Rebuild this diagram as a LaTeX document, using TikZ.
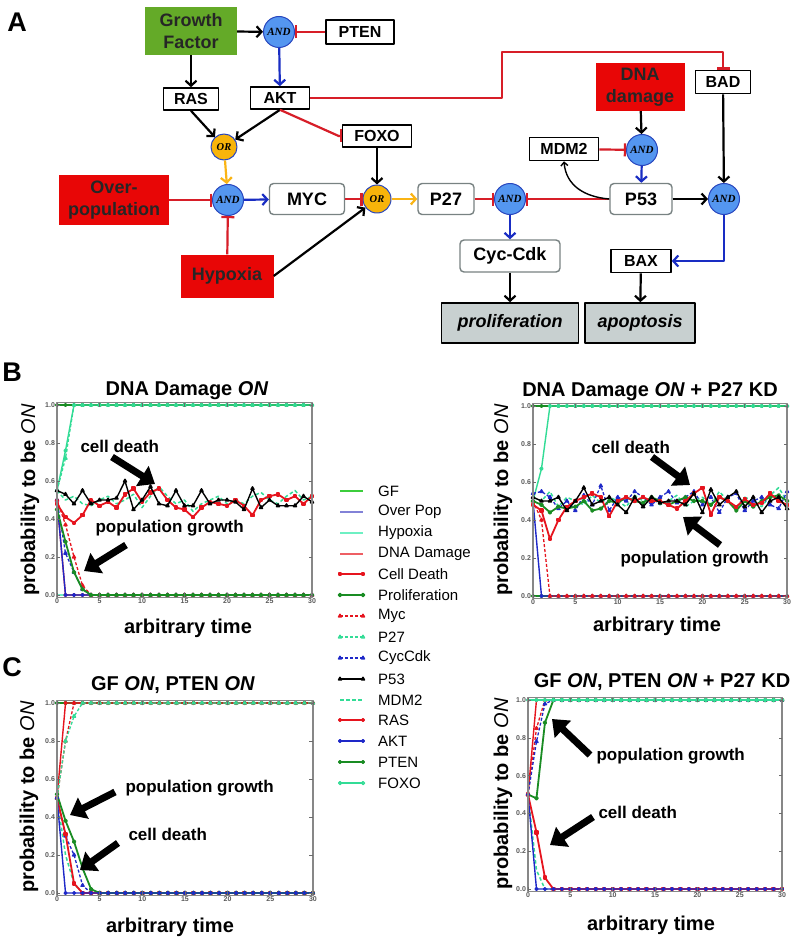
\documentclass[tikz,border=0pt]{standalone}
\usepackage{fontspec}
\setmainfont{Liberation Sans}
\newfontfamily\gatefont{Liberation Serif}
\usetikzlibrary{arrows.meta,plotmarks}
\newcommand\fs[1]{\fontsize{#1}{\the\dimexpr #1pt*6/5\relax}\selectfont}
\definecolor{gfgreen}{RGB}{100,170,40}
\definecolor{boxred}{RGB}{232,6,6}
\definecolor{gateblue}{RGB}{84,150,240}
\definecolor{gateedge}{RGB}{40,70,190}
\definecolor{gateorange}{RGB}{248,180,10}
\definecolor{boxgray}{RGB}{120,130,130}
\definecolor{outgray}{RGB}{200,208,208}
\definecolor{arrblue}{RGB}{25,45,195}
\definecolor{arrorange}{RGB}{250,180,20}
\definecolor{inhred}{RGB}{215,30,40}
\definecolor{sergf}{RGB}{60,205,60}
\definecolor{serop}{RGB}{130,130,215}
\definecolor{serhyp}{RGB}{110,240,195}
\definecolor{serdna}{RGB}{238,95,100}
\definecolor{redc}{RGB}{230,20,30}
\definecolor{dgreen}{RGB}{25,140,35}
\definecolor{aquac}{RGB}{50,220,150}
\definecolor{bluec}{RGB}{30,40,200}
\definecolor{framec}{RGB}{135,135,135}
\newcounter{ci}
\newcommand\series[3]{%
  \gdef\clist{}\setcounter{ci}{0}%
  \foreach \yv in {#2}{\xdef\clist{\clist(\arabic{ci},\yv)}\stepcounter{ci}}%
  \foreach \k in {0,...,30}{\ifnum\k<\value{ci}\else\xdef\clist{\clist(\k,#3)}\fi}%
  \edef\tmp{\noexpand\draw[#1] plot coordinates {\clist};}\tmp}
\newcommand\plotaxes[1]{%
  \draw[axframe] (0,-0.012) rectangle (30,1.012);
  \foreach \v/\l [count=\i] in {0/0.0,0.2/0.2,0.4/0.4,0.6/0.6,0.8/0.8,1/1.0}{
    \draw[axtick] (0,\v) -- ++(0.4,0);
    \draw[axtick] (30,\v) -- ++(-0.4,0);
    \node[ticklab, anchor=east] (#1y\i) at (-0.1,\v) {\l};
  }
  \foreach \v [count=\i] in {0,5,...,30}{
    \draw[axtick] (\v,-0.012) -- ++(0,0.02);
    \draw[axtick] (\v,1.012) -- ++(0,-0.02);
    \node[ticklab, anchor=north] (#1x\i) at (\v,-0.014) {\v};
  }
}
\tikzset{
  box/.style={draw=black, line width=1.6pt, fill=white, font=\bfseries\fs{16}, inner sep=0pt},
  rbox/.style={draw=boxgray, line width=1.4pt, rounded corners=4pt, fill=white, font=\bfseries\fs{18}, inner sep=0pt},
  redbox/.style={fill=boxred, font=\bfseries\fs{18}, align=center, inner sep=0pt, text=black!85},
  andg/.style={circle, fill=gateblue, draw=gateedge, line width=1pt, minimum size=31pt, inner sep=0pt, font=\gatefont\bfseries\itshape\fs{11}},
  org/.style={circle, fill=gateorange, draw=gateedge, line width=1pt, minimum size=26pt, inner sep=0pt, font=\gatefont\bfseries\itshape\fs{10.5}},
  outbox/.style={fill=outgray, draw=black, line width=1.6pt, font=\bfseries\itshape\fs{18}, inner sep=0pt},
  act/.style={line width=2.2pt, -{Straight Barb[length=5pt,width=11pt]}},
  thinact/.style={line width=1.4pt, -{Straight Barb[length=3.5pt,width=7pt]}},
  bluearr/.style={draw=arrblue},
  orangearr/.style={draw=arrorange},
  inh/.style={line width=2.2pt, draw=inhred, -{Bar[width=13pt]}},
  axframe/.style={draw=framec, line width=1.3pt},
  axtick/.style={draw=framec!80!black, line width=0.6pt},
  ticklab/.style={font=\bfseries\fs{7}, text=black!65, inner sep=1pt},
  ptitle/.style={font=\bfseries\fs{20}, anchor=base},
  xlab/.style={font=\bfseries\fs{20}, anchor=base},
  ylab/.style={font=\bfseries\fs{20}, rotate=90},
  annot/.style={font=\bfseries\fs{17}, anchor=base west},
  bigarrow/.style={line width=7pt, -{Triangle[length=15pt,width=23pt]}},
  panel/.style={font=\bfseries\fs{27}},
  legtext/.style={font=\fs{15}, anchor=west, inner sep=0pt},
  gfS/.style={draw=sergf, line width=1.3pt},
  opS/.style={draw=serop, line width=1.3pt},
  hypS/.style={draw=serhyp, line width=1.3pt},
  dnaS/.style={draw=serdna, line width=1.5pt},
  cdS/.style={color=redc, line width=1.8pt, mark=square*, mark size=1.3pt},
  prS/.style={color=dgreen, line width=1.8pt, mark=*, mark size=1.4pt},
  mycS/.style={color=redc, line width=1.3pt, dash pattern=on 3pt off 2pt, mark=triangle*, mark size=1.8pt, mark options={solid}},
  p27S/.style={color=aquac, line width=1.3pt, dash pattern=on 3pt off 2pt, mark=triangle, mark size=1.8pt, mark options={solid}},
  cycS/.style={color=bluec, line width=1.3pt, dash pattern=on 3pt off 2pt, mark=triangle*, mark size=1.8pt, mark options={solid}},
  p53S/.style={color=black, line width=1.4pt, mark=triangle*, mark size=1.8pt},
  mdmS/.style={color=aquac, line width=1.5pt, dash pattern=on 3.5pt off 2.5pt},
  rasS/.style={color=redc, line width=1.4pt, mark=*, mark size=1.3pt},
  aktS/.style={color=bluec, line width=1.4pt, mark=*, mark size=1.3pt},
  ptS/.style={color=dgreen, line width=1.4pt, mark=*, mark size=1.4pt},
  foS/.style={color=aquac, line width=1.4pt, mark=o, mark size=1.5pt},
}
\begin{document}
\begin{tikzpicture}[x=1pt,y=-1pt,line join=round]
\useasboundingbox (0,0) rectangle (800,944);
\fill[white] (0,0) rectangle (800,944);

% ================= Panel A =================
\node[panel] (lA) at (17,22) {A};
\node[redbox, fill=gfgreen, minimum width=92pt, minimum height=48pt] (gf) at (191,31) {Growth\\Factor};
\node[andg] (andT) at (279,32) {AND};
\node[box, minimum width=68pt, minimum height=24pt] (pten) at (360,32) {PTEN};
\node[box, minimum width=55pt, minimum height=22pt] (ras) at (191,99) {RAS};
\node[box, minimum width=59pt, minimum height=22pt] (akt) at (280,98) {AKT};
\node[org] (orU) at (224,147) {OR};
\node[box, minimum width=69pt, minimum height=22pt] (foxo) at (377,136) {FOXO};
\node[redbox, minimum width=110pt, minimum height=49pt] (op) at (114,200) {Over-\\population};
\node[andg] (andM) at (228,200) {AND};
\node[rbox, minimum width=75pt, minimum height=31pt] (myc) at (307,199) {MYC};
\node[org, minimum size=28pt] (orM) at (377,199) {OR};
\node[rbox, minimum width=56pt, minimum height=31pt] (p27) at (446,199) {P27};
\node[andg] (andP) at (510,199) {AND};
\node[rbox, minimum width=100pt, minimum height=32pt] (cyc) at (510,256) {Cyc-Cdk};
\node[rbox, minimum width=62pt, minimum height=31pt] (p53) at (641,199) {P53};
\node[andg] (andR) at (724,199) {AND};
\node[box, minimum width=60pt, minimum height=23pt] (bax) at (641,261) {BAX};
\node[box, minimum width=69pt, minimum height=23pt] (mdm2) at (564,149) {MDM2};
\node[andg] (andD) at (642,150) {AND};
\node[redbox, minimum width=89pt, minimum height=48pt] (dna) at (640,87) {DNA\\damage};
\node[box, minimum width=55pt, minimum height=23pt] (bad) at (723,82) {BAD};
\node[redbox, minimum width=93pt, minimum height=43pt] (hyp) at (227,276) {Hypoxia};
\node[outbox, minimum width=137pt, minimum height=40pt] (prolif) at (510,323) {proliferation};
\node[outbox, minimum width=110pt, minimum height=40pt] (apop) at (640,323) {apoptosis};

\draw[act] (gf) -- (andT);
\draw[inh] (pten) -- (andT);
\draw[act, bluearr] (andT) -- (akt);
\draw[act] (gf) -- (ras);
\draw[act] (ras.south) -- (orU);
\draw[act] (akt.south) -- (orU);
\draw[inh] (akt.south) -- ([xshift=-3pt]foxo.west) -- (foxo.west);
\draw[inh] (akt.east) -| (502,52) -| (bad.north);
\draw[act, orangearr] (orU) -- (andM);
\draw[inh] (op) -- (andM);
\draw[inh] (hyp) -- (andM);
\draw[act, bluearr] (andM) -- (myc);
\draw[inh] (myc) -- (orM);
\draw[act] (foxo) -- (orM);
\draw[act] (hyp.east) -- (orM);
\draw[act, orangearr] (orM) -- (p27);
\draw[inh] (p27) -- (andP);
\draw[inh] (p53) -- (andP);
\draw[act, bluearr] (andP) -- (cyc);
\draw[act] (cyc) -- (prolif);
\draw[act] (dna) -- (andD);
\draw[inh] (mdm2) -- (andD);
\draw[act, bluearr] (andD) -- (p53);
\draw[thinact] (p53.west) .. controls (585,197) and (566,186) .. (mdm2.south);
\draw[act] (p53) -- (andR);
\draw[act] (bad) -- (andR);
\draw[act, bluearr] (andR.south) |- (bax.east);
\draw[act] (bax) -- (apop);

% ================= Panel B left =================
\node[panel] (lB) at (12,372) {B};
\begin{scope}[shift={(57pt,-595pt)}, x=8.5pt, y=190pt]
  \series{dnaS}{1}{1}
  \series{gfS}{0}{0}
  \series{hypS}{0}{0}
  \series{p27S}{0.55,0.72,1}{1}
  \series{ptS}{1}{1}
  \series{foS}{0.55,0.76,1}{1}
  \series{rasS}{0.5,0}{0}
  \series{aktS}{0.5,0}{0}
  \series{cycS}{0.5,0.22,0.12,0.03,0}{0}
  \series{mycS}{0.5,0.37,0.2,0.05,0}{0}
  \series{prS}{0.45,0.28,0.12,0.03,0}{0}
  \series{mdmS}{0.55,0.50,0.52,0.48,0.47,0.50,0.52,0.48,0.50,0.53,0.46,0.52,0.57,0.52,0.48,0.50,0.44,0.48,0.50,0.52,0.48,0.50,0.48,0.52,0.54,0.50,0.48,0.52,0.55,0.50,0.52}{0}
  \series{cdS}{0.48,0.41,0.38,0.42,0.50,0.47,0.49,0.46,0.53,0.56,0.49,0.54,0.56,0.50,0.46,0.45,0.41,0.46,0.49,0.48,0.47,0.50,0.47,0.42,0.50,0.52,0.53,0.50,0.52,0.48,0.52}{0}
  \series{p53S}{0.55,0.53,0.48,0.55,0.48,0.50,0.50,0.51,0.60,0.45,0.50,0.57,0.48,0.47,0.55,0.47,0.47,0.55,0.48,0.50,0.50,0.49,0.45,0.56,0.46,0.50,0.47,0.47,0.47,0.52,0.49}{0}
  \plotaxes{bl}
\end{scope}
\node[ptitle] (tBL) at (187,395) {DNA Damage \textit{ON}};
\node[xlab] (xBL) at (188,633) {arbitrary time};
\node[ylab] (yBL) at (30,500) {probability to be {\mdseries\itshape ON}};
\node[annot] (aBL1) at (77,452) {cell death};
\node[annot] (aBL2) at (92,532) {population growth};
\coordinate (aBL1t) at (112,457); \coordinate (aBL1h) at (155,484);
\coordinate (aBL2t) at (126,545); \coordinate (aBL2h) at (84,571);
\draw[bigarrow] (aBL1t) -- (aBL1h);
\draw[bigarrow] (aBL2t) -- (aBL2h);

% ================= Panel B right =================
\begin{scope}[shift={(533pt,-596pt)}, x=8.47pt, y=190pt]
  \series{dnaS}{1}{1}
  \series{ptS}{0}{0}
  \series{ptS}{1}{1}
  \series{foS}{0.5,0.67,1}{1}
  \series{aktS}{0.5,0}{0}
  \series{mycS}{0.5,0.4,0}{0}
  \series{mdmS}{0.52,0.50,0.55,0.47,0.52,0.50,0.48,0.53,0.49,0.52,0.50,0.47,0.53,0.50,0.52,0.48,0.50,0.53,0.47,0.50,0.52,0.48,0.55,0.50,0.46,0.52,0.50,0.47,0.53,0.57,0.50}{0}
  \series{cycS}{0.54,0.55,0.52,0.46,0.50,0.45,0.53,0.48,0.58,0.45,0.52,0.50,0.55,0.52,0.48,0.52,0.55,0.49,0.52,0.55,0.48,0.52,0.44,0.52,0.54,0.45,0.50,0.52,0.48,0.46,0.55}{0}
  \series{prS}{0.50,0.48,0.44,0.47,0.46,0.47,0.50,0.45,0.46,0.50,0.49,0.52,0.50,0.49,0.52,0.50,0.48,0.50,0.52,0.50,0.50,0.48,0.52,0.50,0.45,0.50,0.47,0.50,0.52,0.53,0.50}{0}
  \series{cdS}{0.48,0.45,0.30,0.40,0.47,0.50,0.52,0.54,0.52,0.42,0.50,0.52,0.50,0.52,0.50,0.50,0.48,0.46,0.50,0.54,0.57,0.43,0.52,0.50,0.47,0.51,0.48,0.49,0.54,0.50,0.48}{0}
  \series{p53S}{0.52,0.50,0.50,0.52,0.45,0.50,0.57,0.48,0.50,0.52,0.48,0.44,0.52,0.47,0.52,0.49,0.50,0.50,0.48,0.54,0.44,0.56,0.48,0.52,0.55,0.47,0.52,0.44,0.50,0.52,0.46}{0}
  \plotaxes{br}
\end{scope}
\node[ptitle] (tBR) at (650,396) {DNA Damage \textit{ON} + P27 KD};
\node[xlab] (xBR) at (657,631) {arbitrary time};
\node[ylab] (yBR) at (503,500) {probability to be {\mdseries\itshape ON}};
\node[annot] (aBR1) at (588,453) {cell death};
\node[annot] (aBR2) at (617,563) {population growth};
\coordinate (aBR1t) at (652,457); \coordinate (aBR1h) at (690,485);
\coordinate (aBR2t) at (720,545); \coordinate (aBR2h) at (683,517);
\draw[bigarrow] (aBR1t) -- (aBR1h);
\draw[bigarrow] (aBR2t) -- (aBR2h);

% ================= Legend =================
\foreach \s/\t [count=\i from 0] in {gfS/GF,opS/Over Pop,hypS/Hypoxia,dnaS/DNA Damage,cdS/Cell Death,prS/Proliferation,mycS/Myc,p27S/P27,cycS/CycCdk,p53S/P53,mdmS/MDM2,rasS/RAS,aktS/AKT,ptS/PTEN,foS/FOXO}{
  \pgfmathsetmacro\ly{round(491+20.85*\i)}
  \draw[\s] plot coordinates {(340,\ly) (363,\ly)};
  \node[legtext] (lg\i) at (378,\ly) {\t};
}

% ================= Panel C left =================
\node[panel] (lC) at (12,667) {C};
\begin{scope}[shift={(57pt,-893pt)}, x=8.53pt, y=190pt]
  \series{gfS}{1}{1}
  \series{foS}{1}{1}
  \series{ptS}{1}{1}
  \series{rasS}{0.5,1}{1}
  \series{mycS}{0.5,0.8,1}{1}
  \series{p27S}{0.5,0.8,0.93,1}{1}
  \series{mdmS}{0.5,0.2,0.05,0}{0}
  \series{cycS}{0.5,0.3,0.2,0.04,0}{0}
  \series{cdS}{0.5,0.31,0.05,0}{0}
  \series{prS}{0.52,0.38,0.27,0.13,0.02,0}{0}
  \series{aktS}{0.5,0}{0}
  \plotaxes{cl}
\end{scope}
\node[ptitle] (tCL) at (173,690) {GF \textit{ON}, PTEN \textit{ON}};
\node[xlab] (xCL) at (170,932) {arbitrary time};
\node[ylab] (yCL) at (29,797) {probability to be {\mdseries\itshape ON}};
\node[annot] (aCL1) at (122,792) {population growth};
\node[annot] (aCL2) at (125,840) {cell death};
\coordinate (aCL1t) at (115,792); \coordinate (aCL1h) at (70,815);
\coordinate (aCL2t) at (118,843); \coordinate (aCL2h) at (80,870);
\draw[bigarrow] (aCL1t) -- (aCL1h);
\draw[bigarrow] (aCL2t) -- (aCL2h);

% ================= Panel C right =================
\begin{scope}[shift={(528pt,-889pt)}, x=8.47pt, y=189pt]
  \series{gfS}{1}{1}
  \series{rasS}{0.5,1}{1}
  \series{mycS}{0.5,0.85,1}{1}
  \series{cycS}{0.5,0.78,0.98,1}{1}
  \series{prS}{0.5,0.48,0.88,1}{1}
  \series{foS}{1}{1}
  \series{mdmS}{0.5,0.1,0}{0}
  \series{cdS}{0.5,0.3,0.06,0}{0}
  \series{aktS}{0.5,0}{0}
  \plotaxes{cr}
\end{scope}
\node[ptitle] (tCR) at (662,687) {GF \textit{ON}, PTEN \textit{ON} + P27 KD};
\node[xlab] (xCR) at (651,930) {arbitrary time};
\node[ylab] (yCR) at (503,794) {probability to be {\mdseries\itshape ON}};
\node[annot] (aCR1) at (593,760) {population growth};
\node[annot] (aCR2) at (595,818) {cell death};
\coordinate (aCR1t) at (590,755); \coordinate (aCR1h) at (552,719);
\coordinate (aCR2t) at (593,817); \coordinate (aCR2h) at (550,845);
\draw[bigarrow] (aCR1t) -- (aCR1h);
\draw[bigarrow] (aCR2t) -- (aCR2h);
\end{tikzpicture}
\end{document}
